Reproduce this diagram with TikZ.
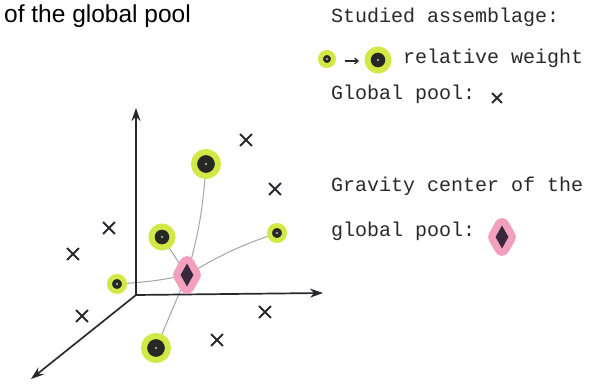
\documentclass[tikz,border=0pt]{standalone}
\usepackage{fontspec}
\setmainfont{Liberation Sans}
\newfontfamily\monofont{Liberation Mono}
\usetikzlibrary{shapes.misc,shapes.geometric,arrows.meta,backgrounds}
\definecolor{halo}{RGB}{210,232,70}
\definecolor{pinkhalo}{RGB}{242,160,190}
\definecolor{ink}{RGB}{40,40,45}
\definecolor{dotfill}{RGB}{38,40,38}
\definecolor{diafill}{RGB}{55,40,60}
\definecolor{linkgray}{RGB}{165,165,165}
\tikzset{
  dotpt/.style={circle, inner sep=0pt, fill=dotfill, draw=halo, line width=#1,
    path picture={\fill[gray!75] (path picture bounding box.center) circle (1.4pt);}},
  bigpt/.style={dotpt=6pt, minimum size=24pt},
  midpt/.style={dotpt=6pt, minimum size=21pt},
  smallpt/.style={dotpt=5pt, minimum size=15pt},
  center/.style={diamond, inner sep=0pt, minimum width=13pt, minimum height=23pt,
    fill=diafill, preaction={draw=pinkhalo, line width=15pt, line join=round}},
  pool/.style={cross out, draw=ink, line width=1.8pt, minimum size=#1, inner sep=0pt},
  pool/.default=10pt,
  axis/.style={draw=ink, line width=1.7pt, -{Stealth[length=13pt,width=9pt]}},
  link/.style={draw=linkgray, line width=1pt},
  mono/.style={font=\monofont\fontsize{20}{24}\selectfont, text=ink, inner sep=0pt, anchor=base west},
  title/.style={font=\fontsize{24.5}{28}\selectfont, text=black, inner sep=0pt, anchor=base west}
}
\begin{document}
\begin{tikzpicture}[x=1pt,y=-1pt]
\useasboundingbox (0,0) rectangle (606,387);
% title and legend texts
\node[title] (title) at (4,23) {of the global pool};
\node[mono] (t1) at (331,23) {Studied assemblage:};
\node[mono] (t2) at (403,64) {relative weight};
\node[mono] (t3) at (331,100) {Global pool:};
\node[mono] (t4) at (331,192) {Gravity center of the};
\node[mono] (t5) at (331,237) {global pool:};
% legend symbols
\node[smallpt, minimum size=13pt] (ls) at (327,59) {};
\node[bigpt, minimum size=21pt] (lb) at (378,60) {};
\coordinate (la1) at (345,61);
\coordinate (la2) at (359,61);
\draw[ink, line width=1.2pt, -{Straight Barb[length=3.5pt,width=6pt]}] (la1) -- (la2);
\node[pool=8pt] (lx) at (497,98) {};
\node[center] (ld) at (502,237) {};
% axes
\coordinate (O) at (136,295);
\coordinate (ytop) at (136,108);
\coordinate (xend) at (323,293);
\coordinate (zend) at (31,379);
\draw[axis] (O) -- (ytop);
\draw[axis] (O) -- (xend);
\draw[axis] (O) -- (zend);
% assemblage points
\node[bigpt] (p1) at (206,164) {};
\node[midpt] (p2) at (162,237) {};
\node[smallpt] (p3) at (277,233) {};
\node[smallpt] (p4) at (117,284) {};
\node[bigpt] (p5) at (156,348) {};
\node[center] (g) at (187,275) {};
% global pool
\node[pool] (x1) at (246,140) {};
\node[pool] (x2) at (275,189) {};
\node[pool] (x3) at (109,228) {};
\node[pool] (x4) at (73,254) {};
\node[pool] (x5) at (82,316) {};
\node[pool] (x6) at (265,312) {};
\node[pool] (x7) at (217,340) {};
% links
\begin{pgfonlayer}{background}
\draw[link] (g.center) to[bend right=6] (p1.center);
\draw[link] (g.center) -- (p2.center);
\draw[link] (g.center) to[bend left=6] (p3.center);
\draw[link] (g.center) to[bend left=4] (p4.center);
\draw[link] (g.center) -- (p5.center);
\end{pgfonlayer}
\end{tikzpicture}
\end{document}
